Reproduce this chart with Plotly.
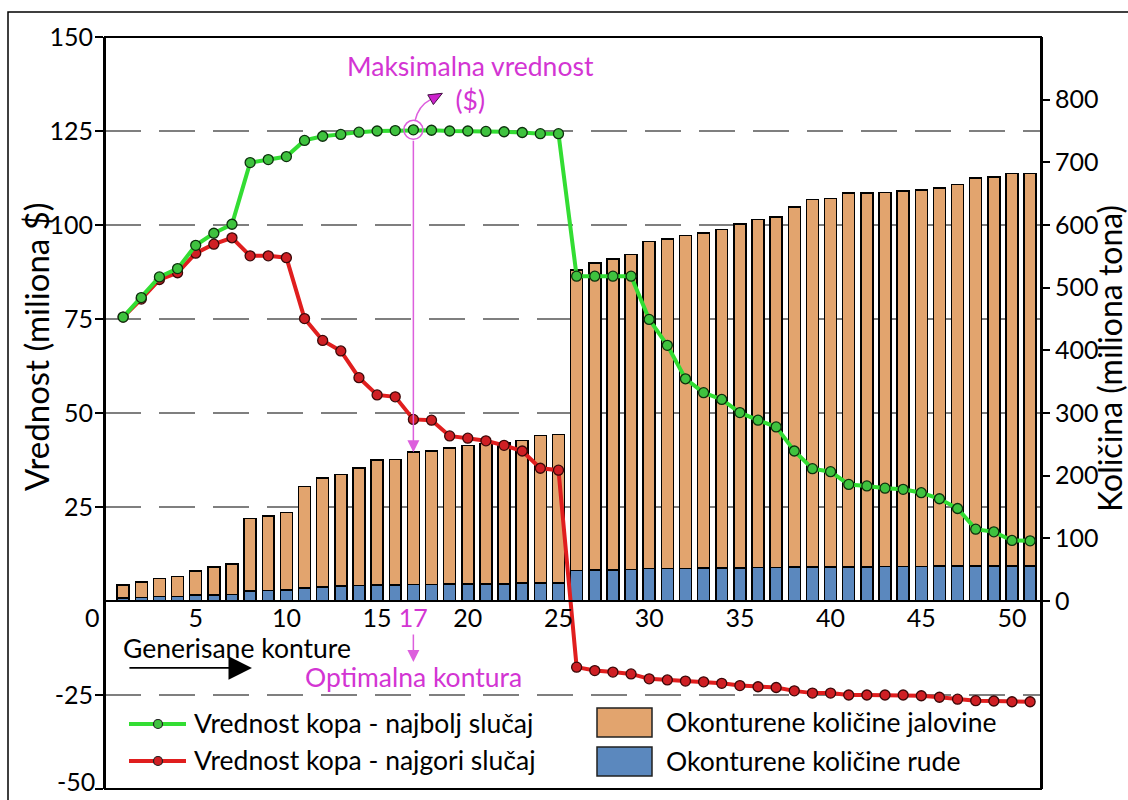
import plotly.graph_objects as go

# Generated pit contours (category axis)
contours = list(range(1, 52))

# Pit value, million $ (left axis)
value_best = [75.5, 80.7, 86.2, 88.4, 94.6, 97.8, 100.2, 116.6, 117.4, 118.2,
              122.5, 123.6, 124.1, 124.7, 125.0, 125.1, 125.3, 125.2, 125.0, 125.0,
              124.9, 124.8, 124.6, 124.3, 124.3, 86.4, 86.4, 86.4, 86.4, 74.9,
              68.0, 59.1, 55.4, 53.6, 50.1, 48.1, 46.3, 39.9, 35.2, 34.4,
              31.0, 30.6, 30.0, 29.7, 28.8, 27.2, 24.6, 19.1, 18.4, 16.1, 16.0]
value_worst = [75.5, 80.3, 85.5, 87.3, 92.5, 94.9, 96.6, 91.8, 91.8, 91.3,
               75.1, 69.3, 66.5, 59.4, 54.8, 54.3, 48.3, 48.1, 43.9, 43.3,
               42.6, 41.4, 39.9, 35.3, 34.8, -17.6, -18.5, -18.9, -19.4, -20.7,
               -21.0, -21.3, -21.5, -21.9, -22.5, -22.8, -23.0, -23.9, -24.5, -24.5,
               -25.0, -25.0, -25.0, -25.0, -25.2, -25.6, -26.1, -26.5, -26.6, -26.8, -26.8]

# Contoured quantities, million t (right axis)
ore = [5, 5.5, 7, 7, 9.5, 9.5, 10, 16, 17, 17.5,
       21, 22, 24, 24.5, 25.5, 25.5, 26.5, 26.5, 27, 27,
       27.5, 27.5, 28.5, 28.5, 28.5, 48.5, 49.5, 49.5, 50, 51.5,
       51.5, 51.5, 52.5, 52.5, 53, 53.5, 53.5, 54, 54, 54.5,
       54.5, 54.5, 55, 55, 55, 55.5, 55.5, 55.5, 56, 56, 56]
waste = [20.5, 24.5, 29, 32, 38.5, 44.5, 49, 116, 119, 123.5,
         162, 174, 178, 187.5, 199.5, 200.5, 211, 212.5, 217, 221,
         223.5, 225.5, 227.5, 235.5, 237.5, 479.5, 489.5, 496.5, 503, 522.5,
         526.5, 531.5, 534.5, 540.5, 549, 555.5, 559.5, 575, 587, 587.5,
         596.5, 596.5, 597, 599, 601, 603.5, 609.5, 619.5, 621, 626, 626]

x_ticks = [5, 10, 15, 17, 20, 25, 30, 35, 40, 45, 50]
left_ticks = [-50, -25, 25, 50, 75, 100, 125, 150]
right_ticks = [0, 100, 200, 300, 400, 500, 600, 700, 800]

LEFT_RANGE = [-50, 150]
RIGHT_RANGE = [-300, 900]

GREEN = '#33dd33'
GREEN_M = '#3fc23f'
RED = '#e01e1e'
RED_M = '#cf1f24'
TAN = '#e2a46e'
BLUE = '#5b88be'
MAGENTA = '#d335d3'
MAGENTA_L = '#dd5fdd'
FONT = 'Lato'
TXT = 26.5

# plot area in pixels (figure is 1128 x 800)
PL, PR, PT, PB = 105, 1041, 37, 789


def px(x):
    return (x - PL) / (PR - PL)


def py(y):
    return (PB - y) / (PB - PT)


# optimal contour = maximum of best case value
opt_i = max(range(len(value_best)), key=lambda i: value_best[i])
opt_x = contours[opt_i]
opt_top = (ore[opt_i] + waste[opt_i]) * (LEFT_RANGE[1] - LEFT_RANGE[0]) / (RIGHT_RANGE[1] - RIGHT_RANGE[0])

fig = go.Figure()

# stacked bars on the right axis
fig.add_trace(go.Bar(x=contours, y=ore, name='Okonturene količine rude', width=0.66,
                     marker=dict(color=BLUE, line=dict(color='black', width=1.5))))
fig.add_trace(go.Bar(x=contours, y=waste, name='Okonturene količine jalovine', width=0.66,
                     marker=dict(color=TAN, line=dict(color='black', width=1.5))))

# value lines on the left axis
fig.add_trace(go.Scatter(x=contours, y=value_worst, yaxis='y2', mode='lines+markers',
                         name='Vrednost kopa - najgori slučaj',
                         line=dict(color=RED, width=4),
                         marker=dict(size=10, color=RED_M, line=dict(color='#3a0808', width=1.3))))
fig.add_trace(go.Scatter(x=contours, y=value_best, yaxis='y2', mode='lines+markers',
                         name='Vrednost kopa - najbolj slučaj',
                         line=dict(color=GREEN, width=4),
                         marker=dict(size=10, color=GREEN_M, line=dict(color='#0d300d', width=1.3))))

ticktext = [f"<span style='color:{MAGENTA}'>{t}</span>" if t == opt_x else str(t) for t in x_ticks]
# the lowest left label is placed by hand (it sits on the figure's bottom edge)
left_text = ['' if t == LEFT_RANGE[0] else str(t) for t in left_ticks]

fig.update_layout(
    width=1128, height=800,
    margin=dict(l=PL, r=1128 - PR, t=PT, b=800 - PB, autoexpand=False),
    paper_bgcolor='white', plot_bgcolor='white',
    font=dict(family=FONT, size=25, color='black'),
    barmode='stack',
    showlegend=False,
    xaxis=dict(range=[0, 51.6], anchor='free', position=0.25, automargin=False,
               showline=True, linecolor='black', linewidth=2,
               tickvals=x_ticks, ticktext=ticktext, ticks='', ticklabelstandoff=-5,
               showgrid=False, zeroline=False),
    yaxis=dict(side='right', range=RIGHT_RANGE, tickvals=right_ticks, automargin=False,
               ticks='outside', ticklen=7, tickwidth=1.5, tickcolor='black',
               showline=True, linecolor='black', linewidth=2,
               showgrid=False, zeroline=False),
    yaxis2=dict(side='left', overlaying='y', range=LEFT_RANGE, tickvals=left_ticks,
                ticktext=left_text, ticklabelstandoff=-3, automargin=False,
                ticks='outside', ticklen=8, tickwidth=1.5, tickcolor='black',
                showline=True, linecolor='black', linewidth=2,
                showgrid=True, gridcolor='#7f7f7f', gridwidth=1.5, griddash='36px,18px',
                zeroline=False),
)

shapes = [
    # plot frame and outer frame
    dict(type='rect', xref='paper', yref='paper', x0=0, x1=1, y0=0, y1=1,
         line=dict(color='black', width=2)),
    dict(type='rect', xref='paper', yref='paper', x0=px(8), x1=px(1200), y0=py(900), y1=py(12),
         line=dict(color='black', width=1.5)),
    # circle round the maximum
    dict(type='circle', xref='x', yref='y2', xsizemode='pixel', ysizemode='pixel',
         xanchor=opt_x, yanchor=value_best[opt_i], x0=-9.5, x1=9.5, y0=-9.5, y1=9.5,
         line=dict(color=MAGENTA_L, width=1.5)),
    # curved arrow towards the label
    dict(type='path', xref='x', yref='y2', xsizemode='pixel', ysizemode='pixel',
         xanchor=opt_x, yanchor=value_best[opt_i], path='M 1.7,9.3 Q 5,24 17,30.3',
         line=dict(color=MAGENTA_L, width=1.5)),
    dict(type='path', xref='x', yref='y2', xsizemode='pixel', ysizemode='pixel',
         xanchor=opt_x, yanchor=value_best[opt_i], path='M 29,36.6 L 14.4,35 L 20,25.3 Z',
         fillcolor='#cc22cc', line=dict(color='#401040', width=1)),
]

# legend drawn by hand
legend_lines = [(724, GREEN, GREEN_M, 'Vrednost kopa - najbolj slučaj'),
                (761, RED, RED_M, 'Vrednost kopa - najgori slučaj')]
legend_boxes = [(722, TAN, 'Okonturene količine jalovine'),
                (761, BLUE, 'Okonturene količine rude')]
annotations = []
for yy, lc, mc, label in legend_lines:
    shapes.append(dict(type='line', xref='paper', yref='paper', x0=px(129), x1=px(186),
                       y0=py(yy), y1=py(yy), line=dict(color=lc, width=4)))
    shapes.append(dict(type='circle', xref='paper', yref='paper', x0=px(153.5), x1=px(162.5),
                       y0=py(yy + 4.5), y1=py(yy - 4.5), fillcolor=mc,
                       line=dict(color='#202020', width=1.2)))
    annotations.append(dict(xref='paper', yref='paper', x=px(192), y=py(yy - 1), text=label,
                            showarrow=False, xanchor='left', yanchor='middle',
                            font=dict(size=TXT)))
for yy, c, label in legend_boxes:
    shapes.append(dict(type='rect', xref='paper', yref='paper', x0=px(597), x1=px(652),
                       y0=py(yy + 15), y1=py(yy - 14), fillcolor=c,
                       line=dict(color='#202020', width=1.5)))
    annotations.append(dict(xref='paper', yref='paper', x=px(664), y=py(yy), text=label,
                            showarrow=False, xanchor='left', yanchor='middle',
                            font=dict(size=TXT)))

annotations += [
    # axis titles
    dict(xref='paper', yref='paper', x=px(36), y=py(347), text='Vrednost (miliona $)',
         textangle=-90, showarrow=False, xanchor='center', yanchor='middle',
         font=dict(size=33)),
    dict(xref='paper', yref='paper', x=px(1109), y=py(359), text='Količina (miliona tona)',
         textangle=-90, showarrow=False, xanchor='center', yanchor='middle',
         font=dict(size=32)),
    # zero label of the left axis sits below the axis line
    dict(xref='paper', yref='y2', x=0, y=0, text='0', showarrow=False,
         xanchor='right', yanchor='middle', xshift=-3, yshift=-16, font=dict(size=25)),
    dict(xref='paper', yref='y2', x=0, y=LEFT_RANGE[0], text=str(LEFT_RANGE[0]), showarrow=False,
         xanchor='right', yanchor='bottom', xshift=-8, yshift=-9, font=dict(size=25)),
    # maximum value
    dict(xref='paper', yref='paper', x=px(470), y=py(83), text='Maksimalna vrednost<br>($)',
         showarrow=False, xanchor='center', yanchor='middle',
         font=dict(size=TXT, color=MAGENTA)),
    dict(xref='x', yref='y2', x=opt_x, y=opt_top, ax=opt_x, ay=value_best[opt_i],
         axref='x', ayref='y2', text='', showarrow=True, arrowhead=2, arrowsize=1.6,
         arrowwidth=1.5, arrowcolor=MAGENTA_L, startstandoff=9.5, standoff=0),
    # optimal contour
    dict(xref='x', yref='y2', x=opt_x, y=-16.2, ax=0, ay=-29, text='', showarrow=True,
         arrowhead=2, arrowsize=1.6, arrowwidth=1.5, arrowcolor=MAGENTA_L),
    dict(xref='x', yref='y2', x=opt_x, y=-20.3, text='Optimalna kontura', showarrow=False,
         xanchor='center', yanchor='middle', font=dict(size=TXT, color=MAGENTA)),
    # direction of generated contours
    dict(xref='paper', yref='y2', x=px(121), y=-12.4, text='Generisane konture',
         showarrow=False, xanchor='left', yanchor='middle', font=dict(size=TXT)),
    dict(xref='x', yref='y2', x=8.1, y=-17.8, ax=-124, ay=0, text='', showarrow=True,
         arrowhead=2, arrowsize=2.6, arrowwidth=1.8, arrowcolor='black'),
]

fig.update_layout(shapes=shapes, annotations=annotations)

# drop the default page margin so the figure sits at the window origin
fig.write_html("out.html", config={'displayModeBar': False},
               post_script="document.body.style.margin='0';")
